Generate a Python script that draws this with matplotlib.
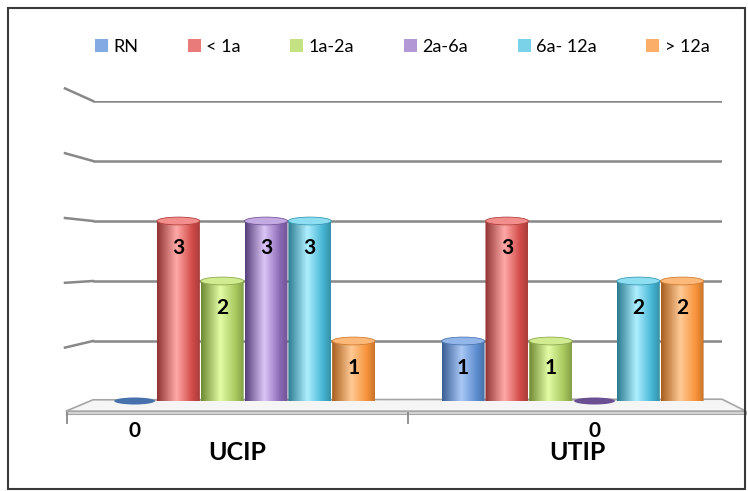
import numpy as np
import matplotlib.pyplot as plt
from matplotlib.patches import Ellipse, Polygon, Rectangle, Patch, PathPatch
from matplotlib.path import Path
from matplotlib.colors import to_rgb

plt.rcParams['font.family'] = ['Lato', 'DejaVu Sans']

categories = ['UCIP', 'UTIP']
age_groups = ['RN', '< 1a', '1a-2a', '2a-6a', '6a- 12a', '> 12a']
ucip = [0, 3, 2, 3, 3, 1]
utip = [1, 3, 1, 0, 2, 2]
counts = [ucip, utip]

# dark edge, highlight, right side of each cylinder
shades = [
    ('#3a5f94', '#aac8f6', '#5b8ccf'),
    ('#8e3331', '#ffaaa9', '#d24c4a'),
    ('#6f8a32', '#e3fca6', '#a6c75c'),
    ('#55407a', '#dcc6f7', '#8a69b5'),
    ('#2d7a90', '#aeefff', '#45b5d3'),
    ('#a85f20', '#ffca96', '#f7923a'),
]

W, H = 748, 491
fig = plt.figure(figsize=(W / 100, H / 100), dpi=100)
ax = fig.add_axes([93 / W, (H - 401) / H, 629 / W, 300 / H])
ax.axis('off')

XL, XR = 0.30, 14.66
cat_w = 7.5
bar_w = 0.98
ell_h = 0.13
grid_c = '#888888'

# back wall gridlines + side wall
for v in range(1, 6):
    ax.plot([XL, XR], [v, v], color=grid_c, lw=1.8, zorder=1, solid_capstyle='butt')
    ax.plot([-0.34, XL], [3.05 + (v - 3) * 1.08, v], color=grid_c, lw=1.8,
            zorder=1, clip_on=False)

# floor
floor = Polygon([(XL, 0.02), (XR, 0.03), (15.21, -0.17), (-0.32, -0.17)],
                closed=True, fc='#f5f5f5', ec='#a6a6a6', lw=1.2, zorder=1.5, clip_on=False)
ax.add_patch(floor)
front = Polygon([(-0.32, -0.17), (15.21, -0.17), (15.21, -0.22), (-0.32, -0.22)],
                closed=True, fc='#d6d6d6', ec='#a6a6a6', lw=0.8, zorder=1.5, clip_on=False)
ax.add_patch(front)
for tx in [-0.29, 7.49, 15.19]:
    ax.plot([tx, tx], [-0.2, -0.36], color=grid_c, lw=1.3, clip_on=False)


def cylinder(x, v, c):
    dark, light, side = [np.array(to_rgb(s)) for s in c]
    if v == 0:
        ax.add_patch(Ellipse((x, 0), bar_w * 0.95, ell_h * 0.9, fc=dark * 0.6 + side * 0.4,
                             ec='none', zorder=3, clip_on=False))
        return
    t = np.linspace(0, 1, 80)
    stops = [0, 0.45, 0.82, 1]
    cols = [dark, light, side, side * 0.8]
    img = np.stack([np.interp(t, stops, [cc[j] for cc in cols]) for j in range(3)], axis=-1)[None, :, :]
    x0, x1 = x - bar_w / 2, x + bar_w / 2
    th = np.linspace(np.pi, 2 * np.pi, 40)
    bottom = np.column_stack([x + bar_w / 2 * np.cos(th), ell_h / 2 * np.sin(th)])
    verts = [(x0, v)] + [tuple(p) for p in bottom] + [(x1, v), (x0, v)]
    codes = [Path.MOVETO] + [Path.LINETO] * (len(verts) - 2) + [Path.CLOSEPOLY]
    clip = PathPatch(Path(verts, codes), fc='none', ec='none', transform=ax.transData)
    ax.add_patch(clip)
    im = ax.imshow(img, extent=(x0, x1, -ell_h / 2, v), aspect='auto', zorder=3,
                   interpolation='bilinear')
    im.set_clip_path(clip)
    top = light * 0.7 + side * 0.3
    ax.add_patch(Ellipse((x, v), bar_w, ell_h, fc=top, ec=side * 0.85, lw=0.6, zorder=4))


for k, vals in enumerate(counts):
    gc = k * cat_w + cat_w / 2
    ax.add_patch(Ellipse((gc, -0.06), 7.2, 0.2, fc='#8a8a8a', alpha=0.35, ec='none', zorder=2))
    for i, v in enumerate(vals):
        x = k * cat_w + 1.25 + i
        cylinder(x, v, shades[i])
        if v == 0:
            ax.text(x, -0.5, '0', ha='center', va='center', fontsize=15,
                    fontweight='bold', zorder=5)
        else:
            ax.text(x, v - 0.45, str(v), ha='center', va='center', fontsize=15,
                    fontweight='bold', zorder=5)
    ax.text(3.6 + k * 7.77, -0.85, categories[k], ha='center', va='center',
            fontsize=18, fontweight='bold')

ax.set_xlim(XL, XR)
ax.set_ylim(0, 5)

handles = [Patch(fc=np.array(to_rgb(c[1])) * 0.5 + np.array(to_rgb(c[2])) * 0.5, ec='none')
           for c in shades]
fig.legend(handles, age_groups, ncol=6, loc='center', bbox_to_anchor=(402 / W, 1 - 47 / H),
           frameon=False, fontsize=13, handlelength=0.72, handleheight=0.72,
           handletextpad=0.3, columnspacing=2.75)

fig.add_artist(Rectangle((8 / W, 2 / H), 737 / W, 481 / H, transform=fig.transFigure,
                         fill=False, ec='#3a3a3a', lw=1.5))

fig.savefig('out.png', dpi=100)
